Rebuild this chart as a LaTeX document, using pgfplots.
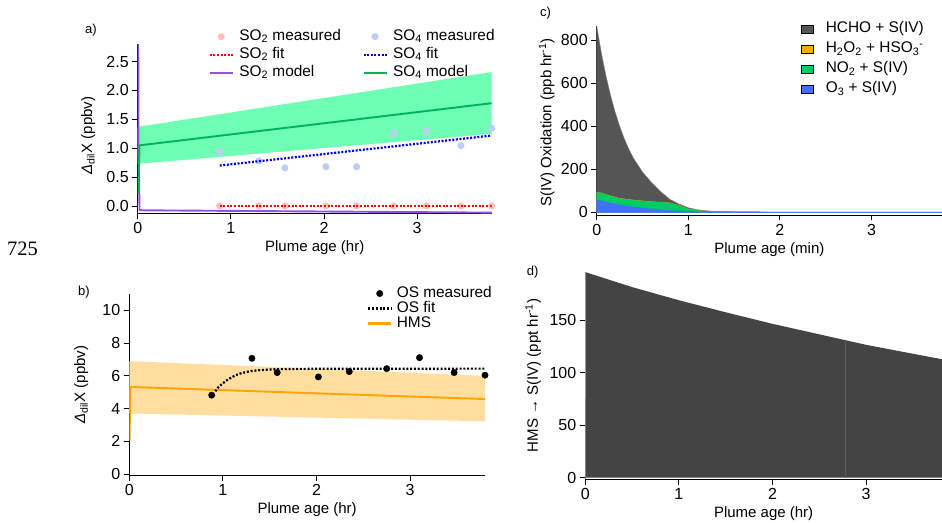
\documentclass[border=0pt]{standalone}
\usepackage{pgfplots}
\pgfplotsset{compat=1.18}
\usepackage{fontspec}
\setmainfont{Liberation Sans}
\newfontfamily\seriffont{Liberation Serif}

\definecolor{pinkpt}{RGB}{255,190,190}
\definecolor{bluept}{RGB}{190,205,245}
\definecolor{redfit}{RGB}{255,0,0}
\definecolor{bluefit}{RGB}{0,0,220}
\definecolor{purp}{RGB}{150,80,225}
\definecolor{grn}{RGB}{0,180,90}
\definecolor{bandg}{RGB}{110,255,180}
\definecolor{orng}{RGB}{255,165,0}
\definecolor{bando}{RGB}{255,222,160}
\definecolor{cgray}{RGB}{85,85,85}
\definecolor{corange}{RGB}{255,170,0}
\definecolor{cgreen}{RGB}{0,204,102}
\definecolor{cblue}{RGB}{64,112,255}
\definecolor{dgray}{RGB}{68,68,68}
\definecolor{dline}{RGB}{95,95,95}

\newcommand{\lbl}{\fontsize{15}{18}\selectfont}
\newcommand{\tck}{\fontsize{16}{19}\selectfont}
\newcommand{\leg}{\fontsize{15.4}{18}\selectfont}

\pgfplotsset{
  base/.style={scale only axis, anchor=south west,
    axis x line=bottom, axis y line=left,
    axis line style={-, line width=0.9pt},
    tick align=outside, major tick length=5.5pt,
    tick style={black, line width=0.9pt},
    xtick={0,1,2,3},
    tick label style={font=\tck},
    label style={font=\lbl},
    /pgf/number format/assume math mode=true,
    clip mode=individual,
    legend cell align=left},
  lineleg/.style={legend image code/.code={\draw[##1] (0pt,0pt) -- (23pt,0pt);}},
  markleg/.style={legend image code/.code={\draw[mark repeat=2,mark phase=2,##1] plot coordinates {(0pt,0pt) (11.5pt,0pt) (23pt,0pt)};}},
  patchleg/.style={legend image code/.code={\fill[##1] (0pt,-3.75pt) rectangle (11.6pt,3.75pt);}},
}

\begin{document}
\begin{tikzpicture}[x=1pt,y=1pt]
\path[use as bounding box] (0,0) rectangle (942,522);

% ---------------- panel a ----------------
\begin{axis}[base, at={(137.7pt,308.8pt)}, width=354pt, height=168.9pt,
  xmin=0, xmax=3.8, ymin=-0.125, ymax=2.8,
  ytick={0,0.5,1,1.5,2,2.5},
  yticklabel style={/pgf/number format/.cd, fixed, fixed zerofill, precision=1},
  xlabel={Plume age (hr)},
  ylabel={\textit{Δ}\textsubscript{dil}X (ppbv)},
  ylabel style={at={(axis description cs:-0.14,0.46)}, anchor=center},
  legend columns=2,
  legend style={at={(axis description cs:0.2,1.1)}, anchor=north west, draw=none, fill=none,
    inner sep=0pt, font=\leg, column sep=4pt,
    /tikz/every even column/.append style={column sep=20pt},
    nodes={inner sep=1.5pt, text height=11pt, text depth=4pt}},
]
\addlegendimage{markleg, only marks, mark=*, mark size=3.3pt, pinkpt, mark options={draw=pinkpt, fill=pinkpt}}
\addlegendentry{SO\textsubscript{2} measured}
\addlegendimage{markleg, only marks, mark=*, mark size=3.3pt, bluept, mark options={draw=bluept, fill=bluept}}
\addlegendentry{SO\textsubscript{4} measured}
\addlegendimage{lineleg, redfit, line width=2.2pt, dash pattern=on 2pt off 1.6pt}
\addlegendentry{SO\textsubscript{2} fit}
\addlegendimage{lineleg, bluefit, line width=2.2pt, dash pattern=on 2pt off 1.6pt}
\addlegendentry{SO\textsubscript{4} fit}
\addlegendimage{lineleg, purp, line width=1.9pt}
\addlegendentry{SO\textsubscript{2} model}
\addlegendimage{lineleg, grn, line width=1.9pt}
\addlegendentry{SO\textsubscript{4} model}

\addplot[forget plot, fill=bandg, draw=none] coordinates {(0,0.73) (3.8,1.25) (3.8,2.32) (0,1.37)} -- cycle;
\addplot[forget plot, only marks, mark=*, mark size=3.3pt, pinkpt, mark options={draw=pinkpt, fill=pinkpt}] coordinates {
(0.88,0) (1.30,0) (1.58,0) (2.02,0) (2.35,0) (2.75,0) (3.10,0) (3.47,0) (3.80,0)};
\addplot[forget plot, only marks, mark=*, mark size=3.3pt, bluept, mark options={draw=bluept, fill=bluept}] coordinates {
(0.88,0.94) (1.30,0.78) (1.58,0.66) (2.02,0.68) (2.35,0.68) (2.75,1.26) (3.10,1.30) (3.47,1.045) (3.80,1.35)};
\addplot[forget plot, redfit, line width=2.2pt, dash pattern=on 2pt off 1.6pt] coordinates {(0.88,0) (3.8,0)};
\addplot[forget plot, bluefit, line width=2.2pt, dash pattern=on 2pt off 1.6pt] coordinates {(0.88,0.70) (3.8,1.22)};
\addplot[forget plot, purp, line width=1.9pt] coordinates {(0.006,2.85) (0.009,1.0) (0.02,-0.07) (0.06,-0.075) (3.8,-0.115)};
\addplot[forget plot, grn, line width=1.9pt] coordinates {(0.006,0.2) (0.02,1.05) (3.8,1.78)};
\end{axis}

% ---------------- panel b ----------------
\begin{axis}[base, at={(129.3pt,47pt)}, width=355.7pt, height=181pt,
  xmin=0, xmax=3.8, ymin=-0.06, ymax=11,
  ytick={0,2,4,6,8,10},
  xlabel={Plume age (hr)},
  ylabel={\textit{Δ}\textsubscript{dil}X (ppbv)},
  ylabel style={at={(axis description cs:-0.135,0.5)}, anchor=center},
  legend style={at={(axis description cs:0.668,1.045)}, anchor=north west, draw=none, fill=none,
    inner sep=0pt, font=\leg, column sep=4pt,
    nodes={inner sep=0.5pt, text height=10.5pt, text depth=3.5pt}},
]
\addlegendimage{markleg, only marks, mark=*, mark size=3.2pt, black}
\addlegendentry{OS measured}
\addlegendimage{lineleg, black, line width=2.2pt, dash pattern=on 2pt off 1.8pt}
\addlegendentry{OS fit}
\addlegendimage{lineleg, orng, line width=2.2pt}
\addlegendentry{HMS}

\addplot[forget plot, fill=bando, draw=none] coordinates {(0,3.7) (3.8,3.22) (3.8,6.0) (0,6.9)} -- cycle;
\addplot[forget plot, orng, line width=1.9pt] coordinates {(0.003,2.05) (0.01,5.32) (3.8,4.58)};
\addplot[forget plot, black, line width=2.2pt, dash pattern=on 2pt off 1.8pt] coordinates {
(0.92,5.05) (0.95,5.3) (1.0,5.55) (1.05,5.76) (1.1,5.93) (1.15,6.07) (1.2,6.17) (1.3,6.29) (1.4,6.35) (1.5,6.39) (1.7,6.42) (2.0,6.43) (3.8,6.44)};
\addplot[forget plot, only marks, mark=*, mark size=3.2pt, black] coordinates {
(0.88,4.82) (1.31,7.07) (1.58,6.2) (2.02,5.93) (2.35,6.26) (2.75,6.44) (3.10,7.11) (3.47,6.2) (3.80,6.04)};
\end{axis}

% ---------------- panel c ----------------
\begin{axis}[base, at={(596.7pt,307pt)}, width=345.3pt, height=189pt,
  xmin=0, xmax=3.77, ymin=-12.5, ymax=865,
  ytick={0,200,400,600,800},
  xlabel={Plume age (min)},
  ylabel={S(IV) Oxidation (ppb hr\textsuperscript{-1})},
  ylabel style={at={(axis description cs:-0.145,0.49)}, anchor=center},
  legend style={at={(axis description cs:0.592,1.037)}, anchor=north west, draw=none, fill=none,
    inner sep=0pt, font=\leg, column sep=11pt,
    nodes={inner sep=1.5pt, text height=12pt, text depth=5pt}},
]
\addlegendimage{patchleg, fill=cgray}
\addlegendentry{HCHO + S(IV)}
\addlegendimage{patchleg, fill=corange}
\addlegendentry{H\textsubscript{2}O\textsubscript{2} + HSO\textsubscript{3}\textsuperscript{-}}
\addlegendimage{patchleg, fill=cgreen}
\addlegendentry{NO\textsubscript{2} + S(IV)}
\addlegendimage{patchleg, fill=cblue}
\addlegendentry{O\textsubscript{3} + S(IV)}

% cumulative tops (HCHO on top of the stack)
\addplot[forget plot, fill=cgray, draw=gray, line width=0.4pt] coordinates {
(0,0) (0,865) (0.05,742) (0.1,636) (0.15,545) (0.2,467) (0.25,401) (0.3,343) (0.35,294) (0.4,252)
(0.5,187) (0.6,138) (0.7,95) (0.8,60) (0.9,38) (1.0,21) (1.1,12) (1.2,7) (1.3,4.5) (1.5,2.5) (2.0,1) (3.77,0.5) (3.77,0)} -- cycle;
\addplot[forget plot, fill=corange, draw=none] coordinates {
(0,0) (0,93) (0.03,93) (0.1,83) (0.25,66) (0.4,58) (0.5,54) (0.6,50) (0.7,48) (0.8,45) (0.9,33) (0.95,24) (1.0,17) (1.1,10) (1.2,6) (1.3,4) (1.5,2) (2.0,0.9) (3.77,0.5) (3.77,0)} -- cycle;
\addplot[forget plot, fill=cgreen, draw=none] coordinates {
(0,0) (0,92) (0.03,92) (0.1,82) (0.25,65) (0.4,57) (0.5,53) (0.6,49) (0.7,47) (0.8,44) (0.9,32) (0.95,23) (1.0,16) (1.1,9.5) (1.2,5.5) (1.3,3.8) (1.5,2) (2.0,0.9) (3.77,0.5) (3.77,0)} -- cycle;
\addplot[forget plot, fill=cblue, draw=cblue, line width=0.8pt] coordinates {
(0,0) (0,55) (0.03,54) (0.1,46) (0.2,38) (0.25,34) (0.3,30) (0.4,24) (0.5,19) (0.6,14) (0.7,10) (0.8,7) (0.9,5) (1.0,3.5) (1.2,2) (1.5,1) (2.0,0.5) (3.77,0.3) (3.77,0)} -- cycle;
\end{axis}

% ---------------- panel d ----------------
\begin{axis}[base, at={(585.3pt,43pt)}, width=356.7pt, height=207pt,
  xmin=0, xmax=3.81, ymin=-1.3, ymax=195.9,
  ytick={0,50,100,150},
  xlabel={Plume age (hr)},
  ylabel={HMS → S(IV) (ppt hr\textsuperscript{-1})},
  ylabel style={at={(axis description cs:-0.146,0.5)}, anchor=center},
  y axis line style={gray},
]
\addplot[fill=dgray, draw=none] coordinates {
(0.01,0) (0.01,195.5) (0.5,181.5) (1.0,169) (1.5,157.5) (2.0,146.5) (2.5,136.5) (3.0,126.5) (3.5,118) (3.81,112.8) (3.81,0)} -- cycle;
\addplot[dline, line width=0.6pt] coordinates {(2.78,0) (2.78,129.8)};
\addplot[gray!70, line width=0.8pt] coordinates {(0.005,75) (0.005,195)};
\end{axis}

% panel letters and page number
\node[anchor=west, inner sep=0pt, font=\fontsize{13}{15}\selectfont] at (85,492) {a)};
\node[anchor=west, inner sep=0pt, font=\fontsize{13}{15}\selectfont] at (78,230) {b)};
\node[anchor=west, inner sep=0pt, font=\fontsize{13}{15}\selectfont] at (540,509.3) {c)};
\node[anchor=west, inner sep=0pt, font=\fontsize{13}{15}\selectfont] at (526.7,250.3) {d)};
\node[anchor=west, inner sep=0pt, font=\seriffont\fontsize{20.5}{22}\selectfont] at (7,273) {725};
\end{tikzpicture}
\end{document}
